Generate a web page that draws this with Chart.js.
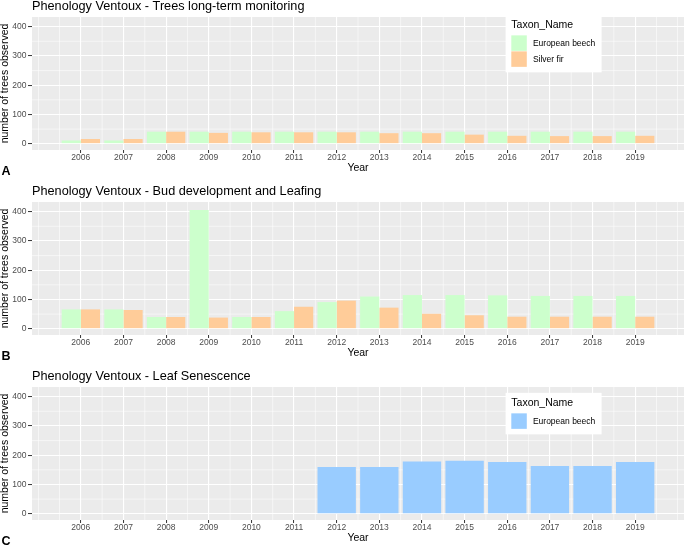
<!DOCTYPE html>
<html>
<head>
<meta charset="utf-8">
<title>Phenology Ventoux</title>
<script src="https://cdn.jsdelivr.net/npm/chart.js@4/dist/chart.umd.min.js"></script>
<style>
  html, body { margin: 0; padding: 0; background: #ffffff; }
  #wrap { position: relative; width: 685px; height: 546px; overflow: hidden; }
  #wrap canvas { position: absolute; left: 0; }
</style>
</head>
<body>
<div id="wrap">
  <canvas id="chartA" width="685" height="185" style="top:-3px"></canvas>
  <canvas id="chartB" width="685" height="185" style="top:182px"></canvas>
  <canvas id="chartC" width="685" height="185" style="top:367px"></canvas>
</div>
<script>
// values
const years = [2006, 2007, 2008, 2009, 2010, 2011, 2012, 2013, 2014, 2015, 2016, 2017, 2018, 2019];
const beechMonitoring = [11, 11, 41, 41, 41, 41, 41, 41, 41, 41, 41, 41, 41, 41];
const firMonitoring   = [16, 16, 41, 37, 39, 39, 39, 36, 36, 31, 27, 26, 26, 27];
const beechLeafing = [66, 66, 40, 406, 40, 60, 91, 110, 115, 115, 114, 112, 112, 112];
const firLeafing   = [66, 64, 40, 38, 40, 75, 96, 72, 51, 46, 41, 41, 41, 41];
const senescenceYears = [2012, 2013, 2014, 2015, 2016, 2017, 2018, 2019];
const beechSenescence = [160, 160, 178, 181, 177, 163, 163, 177];
const yTicks = [0, 100, 200, 300, 400];
const yMinor = [50, 150, 250, 350];

const FAMILY = "'Liberation Sans', Arial, sans-serif";
const GREEN = '#CCFFCC';
const ORANGE = '#FFCC99';
const BLUE = '#99CCFF';

const xMin = 2004.855, xMax = 2020.145;
const yMin = -21.5, yMax = 433;

// half-year minor lines between the labelled years
const xMinor = years.map(v => v - 0.5).concat([years[years.length - 1] + 0.5]);

function isLabelled(v) {
  return years.includes(v);
}

const ggTheme = {
  id: 'ggTheme',
  beforeDraw(chart) {
    const { ctx, chartArea: a, scales: { x, y } } = chart;
    ctx.save();
    ctx.fillStyle = '#EBEBEB';
    ctx.fillRect(a.left, a.top, a.width, a.height);
    ctx.strokeStyle = '#ffffff';
    ctx.lineWidth = 0.55;
    ctx.beginPath();
    xMinor.forEach(v => {
      const px = x.getPixelForValue(v);
      ctx.moveTo(px, a.top);
      ctx.lineTo(px, a.bottom);
    });
    yMinor.forEach(v => {
      const py = y.getPixelForValue(v);
      ctx.moveTo(a.left, py);
      ctx.lineTo(a.right, py);
    });
    ctx.stroke();
    ctx.restore();
  },
  afterDraw(chart, args, opts) {
    const { ctx, chartArea: a } = chart;
    ctx.save();
    // panel tag
    ctx.fillStyle = '#000';
    ctx.font = 'bold 12.5px ' + FAMILY;
    ctx.textBaseline = 'middle';
    ctx.textAlign = 'left';
    ctx.fillText(opts.tag, 1.5, a.bottom + 21.2);

    // legend inside the panel
    if (opts.legendTitle) {
      const items = chart.data.datasets;
      const boxW = 96, keyH = 16;
      const boxH = 20.5 + keyH * items.length + 5;
      const cx = a.left + 0.8 * a.width;
      const cy = a.bottom - 0.8 * a.height;
      const left = cx - boxW / 2, top = cy - boxH / 2;
      ctx.fillStyle = '#ffffff';
      ctx.fillRect(left, top, boxW, boxH);
      ctx.fillStyle = '#000';
      ctx.font = '10.5px ' + FAMILY;
      ctx.fillText(opts.legendTitle, left + 5.7, top + 10);
      ctx.font = '8.5px ' + FAMILY;
      items.forEach((ds, i) => {
        const ky = top + 20.5 + i * keyH;
        ctx.fillStyle = ds.backgroundColor;
        ctx.fillRect(left + 5.7, ky, 15.5, keyH - 0.5);
        ctx.fillStyle = '#000';
        ctx.fillText(ds.label, left + 27.3, ky + keyH / 2);
      });
    }
    ctx.restore();
  }
};

function points(xs, ys) {
  return xs.map((v, i) => ({ x: v, y: ys[i] }));
}

function makeChart(id, tag, title, datasets, legendTitle) {
  return new Chart(document.getElementById(id), {
    type: 'bar',
    data: { datasets },
    options: {
      responsive: false,
      animation: false,
      layout: { padding: { left: 0, right: 1, top: 0, bottom: 0 } },
      datasets: { bar: { categoryPercentage: 0.9, barPercentage: 1, borderWidth: 0 } },
      scales: {
        x: {
          type: 'linear',
          min: xMin,
          max: xMax,
          offset: false,
          afterFit: s => { s.height = 32; },
          border: { display: false },
          grid: {
            offset: false,
            color: '#ffffff',
            lineWidth: c => (c.tick && isLabelled(c.tick.value)) ? 1.1 : 0.55,
            tickLength: 3,
            tickWidth: 1,
            tickColor: c => (c.tick && isLabelled(c.tick.value)) ? '#333333' : 'rgba(0,0,0,0)'
          },
          ticks: {
            stepSize: 1,
            includeBounds: false,
            autoSkip: false,
            maxRotation: 0,
            padding: 0,
            color: '#4D4D4D',
            font: { family: FAMILY, size: 8.5, lineHeight: 1 },
            callback: v => isLabelled(v) ? String(v) : ''
          },
          title: {
            display: true,
            text: 'Year',
            color: '#000',
            font: { family: FAMILY, size: 10.5 },
            padding: { top: 0, bottom: 7.2 }
          }
        },
        y: {
          min: yMin,
          max: yMax,
          afterFit: s => { s.width = 32; },
          afterBuildTicks: s => { s.ticks = yTicks.map(v => ({ value: v })); },
          border: { display: false },
          grid: { color: '#ffffff', lineWidth: 1.1, tickLength: 4, tickWidth: 1, tickColor: '#333333' },
          ticks: {
            padding: 1.5,
            color: '#4D4D4D',
            font: { family: FAMILY, size: 8.5 }
          },
          title: {
            display: true,
            text: 'number of trees observed',
            color: '#000',
            font: { family: FAMILY, size: 10.5, lineHeight: 1 },
            padding: { top: 0, bottom: 0 }
          }
        }
      },
      plugins: {
        legend: { display: false },
        tooltip: { enabled: false },
        title: {
          display: true,
          text: title,
          align: 'start',
          fullSize: false,
          color: '#000',
          font: { family: FAMILY, size: 12.7, weight: 'normal' },
          padding: { top: 2, bottom: 2.76 }
        },
        ggTheme: { tag, legendTitle }
      }
    },
    plugins: [ggTheme]
  });
}

makeChart('chartA', 'A', 'Phenology Ventoux - Trees long-term monitoring', [
  { label: 'European beech', data: points(years, beechMonitoring), backgroundColor: GREEN },
  { label: 'Silver fir', data: points(years, firMonitoring), backgroundColor: ORANGE }
], 'Taxon_Name');

makeChart('chartB', 'B', 'Phenology Ventoux - Bud development and Leafing', [
  { label: 'European beech', data: points(years, beechLeafing), backgroundColor: GREEN },
  { label: 'Silver fir', data: points(years, firLeafing), backgroundColor: ORANGE }
], null);

makeChart('chartC', 'C', 'Phenology Ventoux - Leaf Senescence', [
  { label: 'European beech', data: points(senescenceYears, beechSenescence), backgroundColor: BLUE }
], 'Taxon_Name');
</script>
</body>
</html>
